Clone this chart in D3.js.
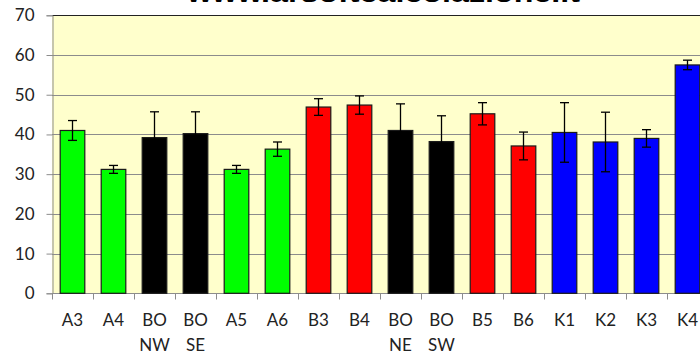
<!DOCTYPE html>
<html>
<head>
<meta charset="utf-8">
<script src="https://cdn.jsdelivr.net/npm/d3@7"></script>
<style>
  html, body { margin: 0; padding: 0; background: #fff; }
  svg { display: block; }
  text { font-family: Lato, "Open Sans", sans-serif; fill: #222; }
</style>
</head>
<body>
<svg id="chart" width="700" height="354"></svg>
<script>
// Sample groups (two-line labels split on "\n")
const categories = ["A3", "A4", "BO\nNW", "BO\nSE", "A5", "A6", "B3", "B4",
                    "BO\nNE", "BO\nSW", "B5", "B6", "K1", "K2", "K3", "K4"];
// Mean values
const values = [41.0, 31.2, 39.2, 40.2, 31.2, 36.3, 46.9, 47.4,
                41.0, 38.2, 45.2, 37.1, 40.5, 38.1, 39.0, 57.5];
// Error half-widths
const errors = [2.5, 1.0, 6.5, 5.5, 1.0, 1.8, 2.1, 2.3,
                6.7, 6.5, 2.8, 3.5, 7.5, 7.5, 2.2, 1.2];
// Bar fill per group
const colors = ["#00ff00", "#00ff00", "#000000", "#000000", "#00ff00", "#00ff00", "#ff0000", "#ff0000",
                "#000000", "#000000", "#ff0000", "#ff0000", "#0000ff", "#0000ff", "#0000ff", "#0000ff"];
const yTicks = [0, 10, 20, 30, 40, 50, 60, 70];
const title = "www.arsoftcalcolazione.it";

const svg = d3.select("#chart");
const plot = { left: 52, top: 15.3, right: 708, bottom: 293.3 };
const labelSize = "17px";

const x = d3.scaleBand()
  .domain(categories)
  .range([plot.left, plot.right])
  .paddingInner(0.4)
  .paddingOuter(0.2);

const y = d3.scaleLinear().domain([0, 70]).range([plot.bottom, plot.top]);

// Title, mostly above the top edge
svg.append("text")
  .attr("x", 383.5).attr("y", 1.5)
  .attr("text-anchor", "middle")
  .attr("textLength", 393)
  .attr("lengthAdjust", "spacingAndGlyphs")
  .style("font-family", "'Liberation Sans', Arial, sans-serif")
  .style("font-weight", "bold")
  .style("font-size", "26px")
  .style("fill", "#000")
  .text(title);

// Plot background
svg.append("rect")
  .attr("x", plot.left).attr("y", plot.top)
  .attr("width", plot.right - plot.left).attr("height", plot.bottom - plot.top)
  .attr("fill", "#ffffcc");

// Horizontal gridlines
svg.append("g")
  .selectAll("line")
  .data(yTicks.filter(t => t > 0 && t < 70))
  .join("line")
  .attr("x1", plot.left).attr("x2", plot.right)
  .attr("y1", d => Math.round(y(d)) + 0.5).attr("y2", d => Math.round(y(d)) + 0.5)
  .attr("stroke", "#8c8c8c").attr("stroke-width", 1);

// Top border
svg.append("line")
  .attr("x1", plot.left).attr("x2", plot.right)
  .attr("y1", Math.round(y(70)) + 0.5).attr("y2", Math.round(y(70)) + 0.5)
  .attr("stroke", "#222").attr("stroke-width", 1.2);

// Y axis
const yAxis = d3.axisLeft(y).tickValues(yTicks).tickSize(6).tickPadding(12);
const gy = svg.append("g")
  .attr("transform", `translate(${plot.left + 0.5},0)`)
  .call(yAxis);
gy.select(".domain").attr("stroke", "#8c8c8c");
gy.selectAll(".tick line").attr("stroke", "#8c8c8c");
gy.selectAll(".tick text")
  .style("font-family", "Lato, sans-serif")
  .style("font-size", labelSize)
  .attr("fill", "#222");

// X axis: ticks at band boundaries
const boundaries = d3.range(categories.length + 1).map(i => plot.left + i * x.step());
svg.append("line")
  .attr("x1", plot.left).attr("x2", plot.right)
  .attr("y1", Math.round(plot.bottom) + 0.5).attr("y2", Math.round(plot.bottom) + 0.5)
  .attr("stroke", "#8c8c8c");
svg.append("g")
  .selectAll("line")
  .data(boundaries)
  .join("line")
  .attr("x1", d => Math.round(d) + 0.5).attr("x2", d => Math.round(d) + 0.5)
  .attr("y1", Math.round(plot.bottom)).attr("y2", Math.round(plot.bottom) + 6.5)
  .attr("stroke", "#8c8c8c");

// Category labels
const labels = svg.append("g")
  .selectAll("text")
  .data(categories)
  .join("text")
  .attr("x", d => x(d) + x.bandwidth() / 2)
  .attr("y", 326)
  .attr("text-anchor", "middle")
  .style("font-size", labelSize);
labels.selectAll("tspan")
  .data(d => d.split("\n"))
  .join("tspan")
  .attr("x", function () { return d3.select(this.parentNode).attr("x"); })
  .attr("dy", (d, i) => i === 0 ? 0 : 24.5)
  .text(d => d);

// Bars
svg.append("g")
  .selectAll("rect")
  .data(categories)
  .join("rect")
  .attr("x", d => x(d))
  .attr("y", (d, i) => y(values[i]))
  .attr("width", x.bandwidth())
  .attr("height", (d, i) => y(0) - y(values[i]))
  .attr("fill", (d, i) => colors[i])
  .attr("stroke", "#1a1a1a")
  .attr("stroke-width", 1.2);

// Error bars
const eb = svg.append("g")
  .selectAll("g")
  .data(categories)
  .join("g")
  .attr("transform", d => `translate(${x(d) + x.bandwidth() / 2},0)`);
eb.append("line")
  .attr("y1", (d, i) => y(values[i] + errors[i]))
  .attr("y2", (d, i) => y(values[i] - errors[i]))
  .attr("stroke", "#000").attr("stroke-width", 1.3);
eb.append("line")
  .attr("x1", -4.5).attr("x2", 4.5)
  .attr("y1", (d, i) => y(values[i] + errors[i]))
  .attr("y2", (d, i) => y(values[i] + errors[i]))
  .attr("stroke", "#000").attr("stroke-width", 1.3);
eb.append("line")
  .attr("x1", -4.5).attr("x2", 4.5)
  .attr("y1", (d, i) => y(values[i] - errors[i]))
  .attr("y2", (d, i) => y(values[i] - errors[i]))
  .attr("stroke", "#000").attr("stroke-width", 1.3);
</script>
</body>
</html>
